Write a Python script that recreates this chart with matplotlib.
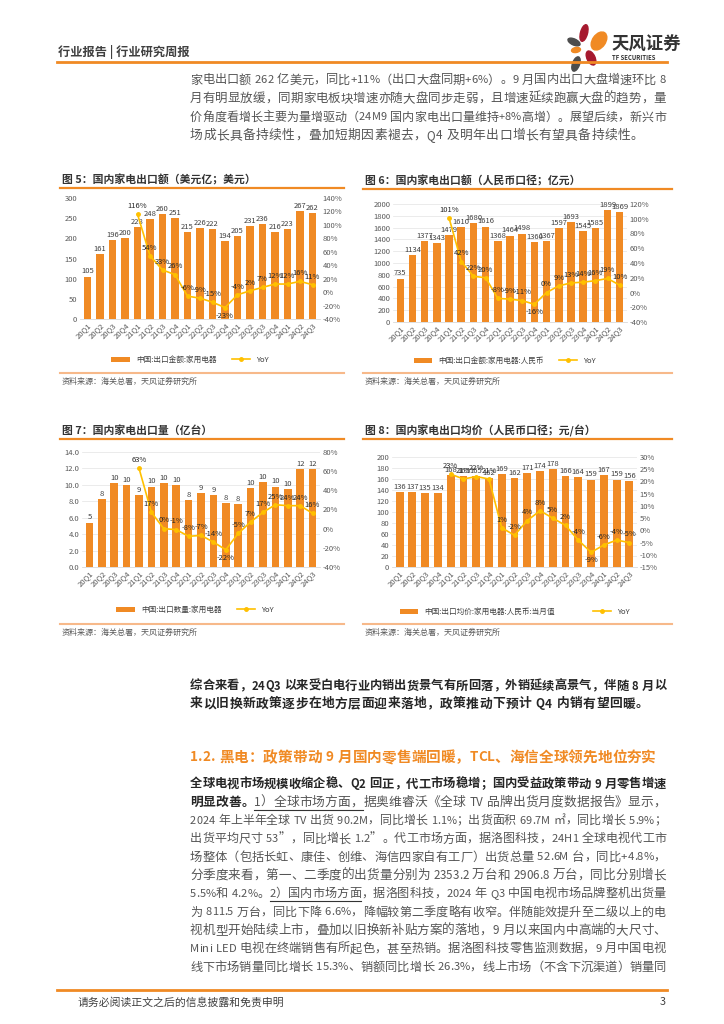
import numpy as np
import matplotlib
matplotlib.use('Agg')
import matplotlib.pyplot as plt
from matplotlib.patches import Patch, Ellipse
from matplotlib.lines import Line2D

plt.rcParams['font.family'] = ['Noto Sans CJK SC', 'DejaVu Sans']

# ---- data ----
quarters = ['20Q1', '20Q2', '20Q3', '20Q4', '21Q1', '21Q2', '21Q3', '21Q4',
            '22Q1', '22Q2', '22Q3', '22Q4', '23Q1', '23Q2', '23Q3', '23Q4',
            '24Q1', '24Q2', '24Q3']

# fig 5: export value, USD 100m
exp_usd = [105, 161, 196, 200, 228, 248, 260, 251, 215, 226, 222, 194, 205, 231, 236, 216, 223, 267, 262]
exp_usd_yoy = [116, 54, 33, 26, -6, -9, -15, -23, -4, 2, 7, 12, 12, 16, 11]
# fig 6: export value, RMB 100m
exp_rmb = [735, 1134, 1377, 1343, 1479, 1610, 1680, 1616, 1368, 1464, 1498, 1360, 1367, 1597, 1693, 1545, 1585, 1899, 1869]
exp_rmb_yoy = [101, 42, 22, 20, -8, -9, -11, -16, 0, 9, 13, 14, 16, 19, 10]
# fig 7: export volume, 100m units
exp_vol = [5.4, 8.3, 10.2, 10.0, 8.8, 9.8, 10.2, 10.0, 8.1, 9.0, 8.8, 7.8, 7.7, 9.6, 10.3, 9.8, 9.5, 11.9, 11.9]
exp_vol_yoy = [63, 17, 0, -1, -8, -7, -14, -22, -5, 7, 17, 25, 24, 24, 16]
# fig 8: average export price, RMB per unit
exp_price = [136, 137, 135, 134, 168, 165, 165, 162, 169, 162, 171, 174, 178, 166, 164, 159, 167, 159, 156]
exp_price_yoy = [23, 21, 22, 21, 1, -2, 4, 8, 5, 2, -4, -9, -6, -4, -5]

para1 = ['家电出口额 262 亿美元，同比+11%（出口大盘同期+6%）。9 月国内出口大盘增速环比 8',
         '月有明显放缓，同期家电板块增速亦随大盘同步走弱，且增速延续跑赢大盘的趋势，量',
         '价角度看增长主要为量增驱动（24M9 国内家电出口量维持+8%高增）。展望后续，新兴市',
         '场成长具备持续性，叠加短期因素褪去，Q4 及明年出口增长有望具备持续性。']
summary = ['综合来看，24Q3 以来受白电行业内销出货景气有所回落，外销延续高景气，伴随 8 月以',
           '来以旧换新政策逐步在地方层面迎来落地，政策推动下预计 Q4 内销有望回暖。']
heading = '1.2. 黑电：政策带动 9 月国内零售端回暖，TCL、海信全球领先地位夯实'
para2 = [[('全球电视市场规模收缩企稳、Q2 回正，代工市场稳增；国内受益政策带动 9 月零售增速', 'b')],
         [('明显改善。', 'b'), ('1）全球市场方面，', 'u'), ('据奥维睿沃《全球 TV 品牌出货月度数据报告》显示，', 'n')],
         [('2024 年上半年全球 TV 出货 90.2M，同比增长 1.1%；出货面积 69.7M ㎡，同比增长 5.9%；', 'n')],
         [('出货平均尺寸 53”，同比增长 1.2”。代工市场方面，据洛图科技，24H1 全球电视代工市', 'n')],
         [('场整体（包括长虹、康佳、创维、海信四家自有工厂）出货总量 52.6M 台，同比+4.8%，', 'n')],
         [('分季度来看，第一、二季度的出货量分别为 2353.2 万台和 2906.8 万台，同比分别增长', 'n')],
         [('5.5%和 4.2%。', 'n'), ('2）国内市场方面', 'u'), ('，据洛图科技，2024 年 Q3 中国电视市场品牌整机出货量', 'n')],
         [('为 811.5 万台，同比下降 6.6%，降幅较第二季度略有收窄。伴随能效提升至二级以上的电', 'n')],
         [('视机型开始陆续上市，叠加以旧换新补贴方案的落地，9 月以来国内中高端的大尺寸、', 'n')],
         [('Mini LED 电视在终端销售有所起色，甚至热销。据洛图科技零售监测数据，9 月中国电视', 'n')],
         [('线下市场销量同比增长 15.3%、销额同比增长 26.3%，线上市场（不含下沉渠道）销量同', 'n')]]

W, H = 724, 1024
ORANGE = '#F08A24'
YELLOW = '#FFC000'
GREY = '#404040'
BODY = '#555555'


def fx(x):
    return x / W


def fy(y):
    return 1 - y / H


fig = plt.figure(figsize=(W / 100, H / 100), dpi=100)
renderer = fig.canvas.get_renderer()


def hline(x0, x1, y, color, lw):
    fig.add_artist(Line2D([fx(x0), fx(x1)], [fy(y), fy(y)], color=color, lw=lw))


def put_line(segs, y, size=9.2, x0=190, x1=666, justify=True, color=BODY):
    # place a line char by char so it can be stretched to the column width
    items = []
    for s, st in segs:
        for ch in s:
            fs = size * (0.92 if ord(ch) < 128 else 1.0)
            if ch == ' ':
                items.append([None, st, fs])
                continue
            c = color
            bold = color != BODY
            if st == 'b':
                c, bold = '#262626', True
            t = fig.text(fx(x0), fy(y), ch, fontsize=fs, color=c, va='center', ha='left',
                         fontweight='bold' if bold else 'normal')
            items.append([t, st, fs])

    def widths():
        return [it[2] * 0.3 * 100 / 72 if it[0] is None else it[0].get_window_extent(renderer).width
                for it in items]
    ws = widths()
    avail = x1 - x0
    if sum(ws) > avail:
        k = avail / sum(ws) * 0.995
        for it in items:
            it[2] *= k
            if it[0] is not None:
                it[0].set_fontsize(it[2])
        ws = widths()
    gap = (avail - sum(ws)) / (len(items) - 1) if justify else 0.4
    x = x0
    ul = []
    for it, w in zip(items, ws):
        if it[0] is not None:
            it[0].set_x(fx(x))
        if it[1] == 'u':
            ul.append((x, x + w))
        x += w + gap
    if ul:
        hline(ul[0][0], ul[-1][1], y + 7.5, '#333333', 0.8)


def chart(box, vals, yoy, lim, step, lim2, step2, fmt, grid):
    x0, y0, x1, y1 = box
    ax = fig.add_axes([fx(x0), fy(y1), (x1 - x0) / W, (y1 - y0) / H])
    x = np.arange(len(quarters))
    ax.bar(x, vals, width=0.62, color=ORANGE, zorder=2)
    ax.set_xlim(-0.6, len(quarters) - 0.4)
    ax.set_ylim(*lim)
    ax.set_yticks(np.arange(lim[0], lim[1] + step / 2, step))
    ax.yaxis.set_major_formatter(plt.FuncFormatter(lambda v, p: fmt % v))
    ax.set_xticks(x)
    ax.set_xticklabels(quarters, rotation=45, ha='right', rotation_mode='anchor', fontsize=5.2)
    for s in ax.spines.values():
        s.set_visible(False)
    ax.spines['bottom'].set_visible(True)
    ax.spines['bottom'].set_color('#D9D9D9')
    ax.spines['bottom'].set_linewidth(0.6)
    if grid:
        ax.grid(axis='y', color='#E3E3E3', lw=0.5)
        ax.set_axisbelow(True)
    ax.tick_params(length=0, labelsize=5.5, colors='#595959', pad=2)
    off = (lim[1] - lim[0]) * 0.01
    for i, v in enumerate(vals):
        ax.text(i, v + off, '%.0f' % v, ha='center', va='bottom', fontsize=5.5, color=GREY)

    ax2 = ax.twinx()
    xs = x[len(x) - len(yoy):]
    ax2.plot(xs, yoy, color=YELLOW, lw=1.2, marker='o', ms=2.5, zorder=3)
    ax2.set_ylim(*lim2)
    ax2.set_yticks(np.arange(lim2[0], lim2[1] + step2 / 2, step2))
    ax2.yaxis.set_major_formatter(plt.FuncFormatter(lambda v, p: '%d%%' % v))
    for s in ax2.spines.values():
        s.set_visible(False)
    ax2.tick_params(length=0, labelsize=5.5, colors='#595959', pad=2)
    low = int(np.argmin(yoy))
    for j, (i, v) in enumerate(zip(xs, yoy)):
        dy = -3 if j == low else 3
        ax2.annotate('%d%%' % v, (i, v), xytext=(0, dy), textcoords='offset points',
                     ha='center', va='top' if j == low else 'bottom', fontsize=5.5, color='#262626')
    return ax


def deco(x0, x1, title, ty, lname, lx, ly, ls_y, src_y, colsp=2.0):
    fig.text(fx(x0 + 2), fy(ty), title, fontsize=7.8, fontweight='bold', color='#333333', va='center')
    hline(x0, x1, ty + 8, ORANGE, 1.6)
    handles = [Patch(facecolor=ORANGE), Line2D([], [], color=YELLOW, marker='o', ms=2.5, lw=1.2)]
    fig.legend(handles, [lname, 'YoY'], loc='center', bbox_to_anchor=(fx(lx), fy(ly)), ncol=2,
               frameon=False, fontsize=5.5, handlelength=2.4, handleheight=0.6,
               columnspacing=colsp, labelcolor=GREY)
    hline(x0, x1, ls_y, '#F7B98A', 1.5)
    fig.text(fx(x0 + 2), fy(src_y), '资料来源：海关总署，天风证券研究所', fontsize=5.8,
             color='#595959', va='center')


# ---- header ----
fig.text(fx(58), fy(52), '行业报告 | 行业研究周报', fontsize=8.8, fontweight='bold', color=GREY, va='center')
hline(57, 667, 62, ORANGE, 2)
logo = fig.add_axes([fx(562), fy(84), 50 / W, 62 / H])
logo.set_xlim(562, 612)
logo.set_ylim(84, 22)
logo.axis('off')
for cx, cy, w, h, a, c in [(584, 33, 7, 17, 15, '#A6192E'), (574, 42, 13, 6, 25, '#4D4D4D'),
                           (599, 41, 13, 20, 35, ORANGE), (576, 50, 9, 5, -10, ORANGE),
                           (591, 58, 8, 15, -25, '#A6192E'), (576, 64, 7, 15, 20, '#4D4D4D')]:
    logo.add_patch(Ellipse((cx, cy), w, h, angle=a, color=c))
fig.text(fx(611), fy(45), '天风证券', fontsize=12.5, fontweight='bold', color='#333333', va='center')
fig.text(fx(612), fy(58), 'TF SECURITIES', fontsize=4.3, fontweight='bold', color='#333333', va='center')

# ---- first paragraph ----
for k, s in enumerate(para1):
    put_line([(s, 'n')], 80 + k * 18.5, justify=k < 3)

# ---- charts ----
chart((80, 198, 320, 319), exp_usd, exp_usd_yoy, (0, 300), 50, (-40, 140), 20, '%d', False)
deco(60, 344, '图 5：国内家电出口额（美元亿；美元）', 180, '中国:出口金额:家用电器', 190, 360, 373, 381)
chart((393, 204, 627, 322), exp_rmb, exp_rmb_yoy, (0, 2000), 200, (-40, 120), 20, '%d', True)
deco(363, 672, '图 6：国内家电出口额（人民币口径；亿元）', 181, '中国:出口金额:家用电器:人民币', 505, 361, 373, 381)
chart((82, 452, 320, 567), exp_vol, exp_vol_yoy, (0, 14), 2, (-40, 80), 20, '%.1f', True)
deco(60, 344, '图 7：国内家电出口量（亿台）', 431, '中国:出口数量:家用电器', 195, 610, 624, 632)
chart((392, 457, 637, 567), exp_price, exp_price_yoy, (0, 200), 20, (-15, 30), 5, '%d', True)
deco(363, 672, '图 8：国内家电出口均价（人民币口径；元/台）', 431, '中国:出口均价:家用电器:人民币:当月值',
     515, 612, 624, 632, colsp=5.0)

# ---- lower text ----
put_line([(summary[0], 'b')], 686)
put_line([(summary[1], 'b')], 704, justify=False)
put_line([(heading, 'n')], 757, size=11.2, x1=656, color=ORANGE)
for k, segs in enumerate(para2):
    put_line(segs, 784 + k * 18.3)

# ---- footer ----
hline(57, 667, 990, ORANGE, 2)
fig.text(fx(78), fy(1002), '请务必阅读正文之后的信息披露和免责申明', fontsize=7.8, color=GREY, va='center')
fig.text(fx(660), fy(1002), '3', fontsize=7.8, color=GREY, va='center')

fig.savefig('out.png', dpi=100)
